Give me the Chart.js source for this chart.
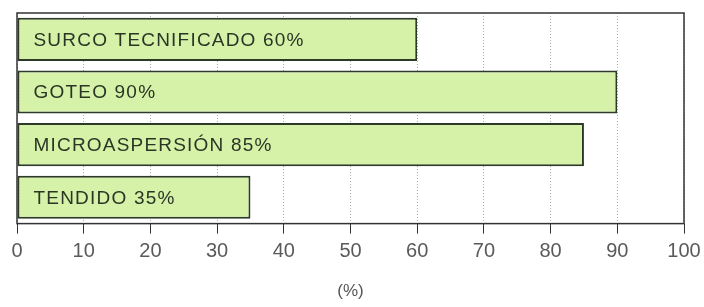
<!DOCTYPE html>
<html>
<head>
<meta charset="utf-8">
<script src="https://cdn.jsdelivr.net/npm/chart.js@4"></script>
<style>
  html, body { margin: 0; padding: 0; background: #fff; }
  #wrap { width: 704px; height: 307px; }
</style>
</head>
<body>
<div id="wrap"><canvas id="chart" width="704" height="307"></canvas></div>
<script>
// Chart data
const categories = ['SURCO TECNIFICADO', 'GOTEO', 'MICROASPERSIÓN', 'TENDIDO'];
const values = [60, 90, 85, 35];
const xTicks = [0, 10, 20, 30, 40, 50, 60, 70, 80, 90, 100];

const FONT = '"Liberation Sans", Arial, sans-serif';

// Labels written inside each bar
const barLabels = {
    id: 'barLabels',
    afterDatasetsDraw(chart) {
        const ctx = chart.ctx;
        const meta = chart.getDatasetMeta(0);
        ctx.save();
        ctx.font = '19px ' + FONT;
        ctx.letterSpacing = '1.2px';
        ctx.fillStyle = '#2a3524';
        ctx.textBaseline = 'middle';
        meta.data.forEach((bar, i) => {
            ctx.fillText(categories[i] + ' ' + values[i] + '%', bar.base + 16, bar.y + 1);
        });
        ctx.restore();
    }
};

// Solid frame round the plot area
const frame = {
    id: 'frame',
    afterDatasetsDraw(chart) {
        const a = chart.chartArea;
        const ctx = chart.ctx;
        ctx.save();
        ctx.strokeStyle = '#333';
        ctx.lineWidth = 1.5;
        ctx.strokeRect(a.left, a.top, a.right - a.left, a.bottom - a.top);
        ctx.restore();
    }
};

new Chart(document.getElementById('chart'), {
    type: 'bar',
    data: {
        labels: categories,
        datasets: [{
            data: values,
            backgroundColor: '#d6f2a9',
            borderColor: '#2d3a28',
            borderWidth: 2,
            borderSkipped: false,
            barPercentage: 0.92,
            categoryPercentage: 0.89
        }]
    },
    options: {
        indexAxis: 'y',
        responsive: false,
        animation: false,
        layout: { padding: { left: 9, right: 0, top: 13, bottom: 0 } },
        plugins: {
            legend: { display: false },
            tooltip: { enabled: false }
        },
        scales: {
            x: {
                min: 0,
                max: 100,
                afterBuildTicks: axis => { axis.ticks = xTicks.map(v => ({ value: v })); },
                afterFit: axis => { axis.paddingRight = 20; },
                ticks: {
                    color: '#5a5a5a',
                    font: { family: FONT, size: 20 },
                    padding: 6
                },
                grid: {
                    color: '#aaa',
                    tickColor: '#333',
                    tickBorderDash: [],
                    tickLength: 10,
                    lineWidth: 1
                },
                border: { display: false, dash: [1, 2] },
                title: {
                    display: true,
                    text: '(%)',
                    color: '#555',
                    font: { family: FONT, size: 17 },
                    padding: { top: 12, bottom: 5 }
                }
            },
            y: {
                ticks: { display: false },
                grid: { display: false },
                border: { display: false }
            }
        }
    },
    plugins: [barLabels, frame]
});
</script>
</body>
</html>
